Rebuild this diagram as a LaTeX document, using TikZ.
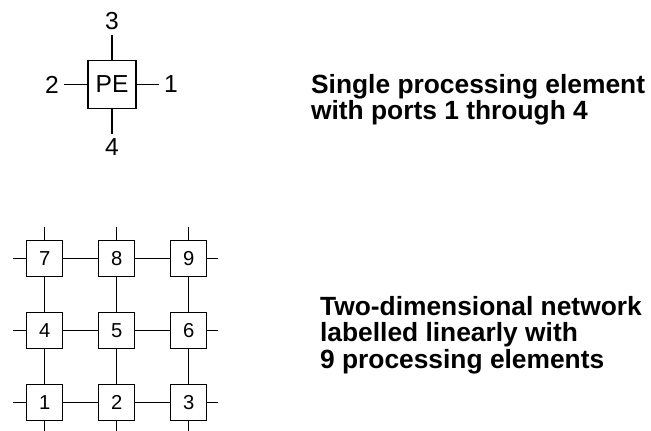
\documentclass[tikz,border=0pt]{standalone}
\usepackage{fontspec}
\setmainfont{Liberation Sans}
\usetikzlibrary{positioning}

\begin{document}
\begin{tikzpicture}[x=0.02cm,y=-0.02cm,line width=0.7pt,
  pe/.style={draw,minimum size=27.2pt,inner sep=0pt,font=\fontsize{14}{14}\selectfont},
  port/.style={inner sep=2.6pt,font=\fontsize{14}{14}\selectfont},
  cell/.style={draw,minimum size=20.4pt,inner sep=0pt,font=\fontsize{11.5}{11.5}\selectfont},
  caption/.style={anchor=north west,inner sep=0pt,align=left,font=\fontsize{15}{15}\selectfont\bfseries}]
\useasboundingbox (0,0) rectangle (651,430);
% single element
\node[pe] (pe) at (112,84.5) {PE};
\node[port] (p1) at (171,84.5) {1};
\node[port] (p2) at (52,84.5) {2};
\node[port] (p3) at (112,21.5) {3};
\node[port] (p4) at (112,147.5) {4};
\draw (pe.east)--(p1.west) (pe.west)--(p2.east) (pe.north)--(p3.south) (pe.south)--(p4.north);
\node[caption] (t1) at (310.5,73.7) {Single processing element\\with ports 1 through 4};
% 3x3 network
\foreach \n in {1,...,9} {
  \pgfmathtruncatemacro{\col}{mod(\n-1,3)}
  \pgfmathtruncatemacro{\row}{(\n-1)/3}
  \node[cell] (c\n) at (44.7+72*\col,402.5-72*\row) {\n};
}
\foreach \a/\b in {1/2,2/3,4/5,5/6,7/8,8/9,1/4,4/7,2/5,5/8,3/6,6/9} \draw (c\a)--(c\b);
\foreach \n in {1,4,7} {\coordinate[left=7.6pt of c\n] (w\n); \draw (c\n.west)--(w\n);}
\foreach \n in {3,6,9} {\coordinate[right=6.2pt of c\n] (e\n); \draw (c\n.east)--(e\n);}
\foreach \n in {7,8,9} {\coordinate[above=7.6pt of c\n] (n\n); \draw (c\n.north)--(n\n);}
\foreach \n in {1,2,3} {\coordinate[below=7.6pt of c\n] (s\n); \draw (c\n.south)--(s\n);}
\node[caption] (t2) at (319.5,295.7) {Two-dimensional network\\labelled linearly with\\9 processing elements};
\end{tikzpicture}
\end{document}
